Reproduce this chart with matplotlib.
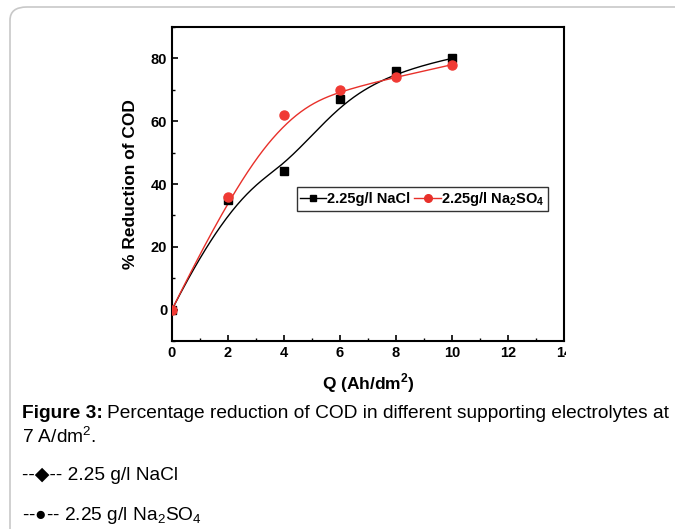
import numpy as np
import matplotlib
matplotlib.use("Agg")
import matplotlib.pyplot as plt
from matplotlib.patches import FancyBboxPatch
from matplotlib.transforms import Bbox

q = [0, 2, 4, 6, 8, 10]
nacl = [0, 35, 44, 67, 76, 80]
na2so4 = [0, 36, 62, 70, 74, 78]
xticks = [0, 2, 4, 6, 8, 10, 12, 14]
yticks = [0, 20, 40, 60, 80]


def bspline(px, py, n=300, k=3):
    px = np.asarray(px, float); py = np.asarray(py, float)
    m = len(px)
    inner = np.linspace(0, 1, m - k + 1)
    t = np.concatenate([[0] * k, inner, [1] * k])
    u = np.linspace(0, 1, n)
    u[-1] = 1 - 1e-12

    def basis(i, p, uu):
        if p == 0:
            return ((t[i] <= uu) & (uu < t[i + 1])).astype(float)
        a = np.zeros_like(uu); b = np.zeros_like(uu)
        if t[i + p] != t[i]:
            a = (uu - t[i]) / (t[i + p] - t[i]) * basis(i, p - 1, uu)
        if t[i + p + 1] != t[i + 1]:
            b = (t[i + p + 1] - uu) / (t[i + p + 1] - t[i + 1]) * basis(i + 1, p - 1, uu)
        return a + b

    B = np.array([basis(i, k, u) for i in range(m)])
    return B.T @ px, B.T @ py


plt.rcParams['font.family'] = ['Liberation Sans', 'DejaVu Sans']
plt.rcParams['mathtext.fontset'] = 'custom'
plt.rcParams['mathtext.rm'] = 'Liberation Sans'
plt.rcParams['mathtext.bf'] = 'Liberation Sans:bold'
fig = plt.figure(figsize=(6.75, 5.29), dpi=100)
W, H = 675, 529

# outer rounded border
border = FancyBboxPatch((10 / W, -0.2), 1.2, (1 - 7 / H) + 0.2,
                        boxstyle="round,pad=0,rounding_size=0.025",
                        transform=fig.transFigure, fill=False,
                        edgecolor='#c8c8c8', linewidth=1.2, clip_on=False)
fig.patches.append(border)

ax = fig.add_axes([172 / W, 1 - 341 / H, (564 - 172) / W, (341 - 27) / H])
ax.set_xlim(0, 14)
ax.set_ylim(-10, 90)

bx, by = bspline(q, nacl)
ax.plot(bx, by, color='black', lw=1.0, zorder=2)
ax.plot(q, nacl, ls='none', marker='s', ms=6, color='black', zorder=3)
rx, ry = bspline(q, na2so4)
ax.plot(rx, ry, color='#e8302a', lw=1.0, zorder=2)
ax.plot(q, na2so4, ls='none', marker='o', ms=6.5, color='#f03a34', zorder=3)

# legend proxies
ax.plot([], [], color='black', lw=1.0, marker='s', ms=5, label='2.25g/l NaCl')
ax.plot([], [], color='#e8302a', lw=1.0, marker='o', ms=5.5,
        label='2.25g/l Na$_\\mathbf{2}$SO$_\\mathbf{4}$')
handles, labels = ax.get_legend_handles_labels()
leg = ax.legend(handles[-2:], labels[-2:], ncol=2, loc='upper left',
                bbox_to_anchor=((297 - 172) / 392, 1 - (187 - 27) / 314),
                frameon=True, fancybox=False, edgecolor='black',
                handlelength=1.8, handletextpad=0.05, columnspacing=0.3,
                borderpad=0.2, borderaxespad=0,
                prop={'weight': 'bold', 'size': 10.5})
leg.get_frame().set_linewidth(1.0)

ax.set_xticks(xticks)
ax.set_xticks(np.arange(1, 14, 2), minor=True)
ax.set_yticks(yticks)
ax.set_yticks(np.arange(-10, 91, 20), minor=True)
ax.tick_params(which='major', direction='in', length=4, width=1.2,
               labelsize=10.5, top=False, right=False)
ax.tick_params(which='minor', direction='in', length=2, width=1.0,
               top=False, right=False)
for lab in ax.get_xticklabels() + ax.get_yticklabels():
    lab.set_fontweight('bold')
for s in ax.spines.values():
    s.set_linewidth(1.5)

ax.set_xlabel('Q (Ah/dm$^\\mathbf{2}$)', fontsize=12.5, fontweight='bold', labelpad=8)
ax.set_ylabel('% Reduction of COD', fontsize=12.5, fontweight='bold', labelpad=9)

fig.canvas.draw()
clipbox = Bbox.from_extents(0, 0, 566, H)
for lab in ax.get_xticklabels():
    lab.set_clip_box(clipbox)
    lab.set_clip_on(True)

fs = 13.8
t1 = fig.text(22 / W, 1 - 413 / H, 'Figure 3:', fontsize=fs, fontweight='bold', va='center')
fig.canvas.draw()
ext = t1.get_window_extent()
fig.text((ext.x1 + 4) / W, 1 - 413 / H,
         'Percentage reduction of COD in different supporting electrolytes at',
         fontsize=fs, va='center')
fig.text(22 / W, 1 - 437 / H, '7 A/dm$^2$.', fontsize=fs, va='center')
fig.text(22 / W, 1 - 476 / H, '--\u25c6-- 2.25 g/l NaCl', fontsize=fs, va='center',
         family=['Liberation Sans', 'DejaVu Sans'])
fig.text(22 / W, 1 - 515 / H, '--\u25cf-- 2.25 g/l Na$_2$SO$_4$',
         fontsize=fs, va='center', family=['Liberation Sans', 'DejaVu Sans'])

fig.savefig('out.png', dpi=100)
